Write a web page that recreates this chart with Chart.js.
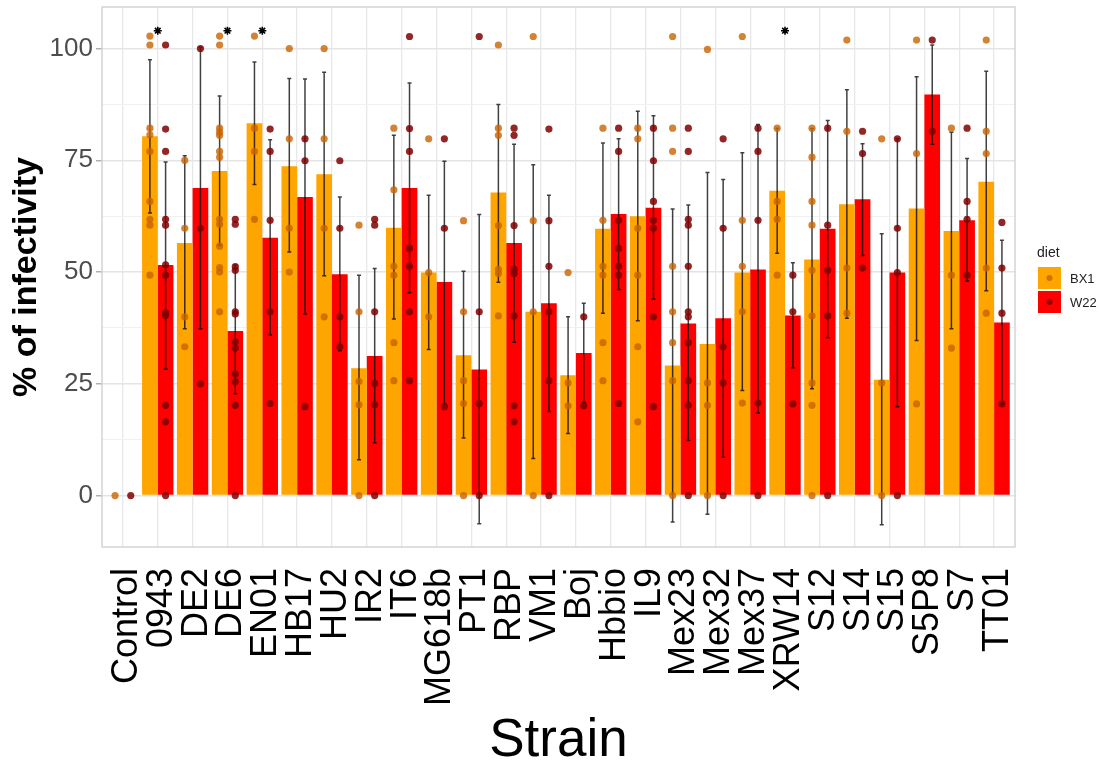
<!DOCTYPE html>
<html>
<head>
<meta charset="utf-8">
<script src="https://cdn.jsdelivr.net/npm/chart.js@4.4.1/dist/chart.umd.min.js"></script>
<style>
  html, body { margin: 0; padding: 0; background: #fff; }
</style>
</head>
<body>
<canvas id="chart" width="1101" height="769"></canvas>
<script>
// strains on the x axis
const categories = ['Control', '0943', 'DE2', 'DE6', 'EN01', 'HB17', 'HU2', 'IR2', 'IT6', 'MG618b',
  'PT1', 'RBP', 'VM1', 'Boj', 'Hbbio', 'IL9', 'Mex23', 'Mex32', 'Mex37', 'XRW14',
  'S12', 'S14', 'S15', 'S5P8', 'S7', 'TT01'];
const diets = ['BX1', 'W22'];
const yTickValues = [0, 25, 50, 75, 100];

// bar heights (mean % infectivity)
const bx1Mean = [0, 80.4, 56.5, 72.6, 83.3, 73.7, 71.9, 28.5, 59.9, 49.9, 31.4, 67.8, 41.1,
  26.9, 59.7, 62.5, 29.1, 33.9, 49.9, 68.2, 52.8, 65.2, 25.9, 64.2, 59.2, 70.2];
const w22Mean = [0, 51.6, 68.8, 36.8, 57.7, 66.8, 49.5, 31.2, 68.8, 47.8, 28.2, 56.5, 43.0,
  31.9, 63.0, 64.4, 38.5, 39.7, 50.6, 40.3, 59.7, 66.3, 49.9, 89.7, 61.6, 38.7];

// error bar ends
const bx1Low = [null, 63.2, 37.3, 56.0, 69.6, 54.5, 49.2, 8.0, 39.5, 32.7, 12.9, 47.7, 8.3,
  13.9, 40.8, 39.1, -5.9, -4.2, 23.5, 54.2, 23.9, 39.7, -6.5, 34.7, 37.3, 45.8];
const bx1High = [null, 97.5, 76.0, 89.4, 97.0, 93.3, 94.7, 49.3, 80.6, 67.2, 50.2, 87.5, 74.0,
  40.0, 78.9, 86.0, 64.1, 72.3, 76.7, 82.2, 82.1, 90.8, 58.6, 93.7, 81.3, 94.9];
const w22Low = [null, 28.3, 37.3, 22.8, 35.9, 40.6, 32.4, 11.8, 45.4, 20.5, -6.3, 34.3, 18.8,
  20.9, 46.1, 44.0, 12.3, 8.6, 18.5, 28.6, 35.3, 53.7, 19.9, 78.6, 48.0, 20.5];
const w22High = [null, 74.6, 100.3, 51.6, 79.6, 93.2, 66.8, 50.8, 92.3, 74.8, 62.9, 78.6, 67.2,
  43.0, 79.8, 85.0, 65.0, 70.7, 83.0, 52.1, 83.9, 78.7, 79.8, 100.8, 75.4, 57.1];

// individual replicates
const bx1Points = [
  [0],
  [102.8, 100.8, 82.2, 80.7, 77, 65.8, 61.8, 60.5, 49.3],
  [75, 59.8, 40, 33.3],
  [102.8, 100.8, 82.2, 81.3, 80.6, 77, 75.7, 61.8, 60.7, 55.8, 51, 50, 41.1],
  [102.8, 82.2, 77, 61.8],
  [100, 79.8, 59.8, 50],
  [100, 79.8, 59.8, 40],
  [60.5, 41.1, 25.5, 20.3, 0],
  [82.2, 68.4, 51.3, 49.3, 34.2, 25.7],
  [79.8, 49.9, 40],
  [61.5, 41.1, 25.7, 20.6, 0],
  [100.8, 82.2, 80.6, 60.4, 50.6, 49.7, 40.2],
  [102.7, 61.5, 41.1, 0],
  [49.9, 25.2, 20.1],
  [82.2, 61.6, 51.3, 49.3, 34.2, 25.7],
  [82.2, 79.8, 59.8, 49.3, 33.3, 16.5],
  [102.7, 82.2, 77, 51.3, 41.1, 34.2, 25.7, 0],
  [99.8, 25.2, 20.2, 0],
  [102.7, 61.6, 51.3, 41.1, 20.7],
  [82.2, 65.8, 61.8, 49.3],
  [82.2, 75.7, 65.8, 60.5, 50.4, 40.2, 25.2, 20.2, 0],
  [101.9, 81.5, 50.9, 40.8],
  [79.8, 25.2, 0],
  [101.9, 76.5, 20.5],
  [82.2, 49.3, 33],
  [101.9, 81.5, 76.5, 50.9, 40.8]
];
const w22Points = [
  [0],
  [100.8, 82, 77, 61.8, 60.5, 51.6, 49.3, 40.9, 40.3, 20.2, 16.5, 0],
  [100, 59.8, 25],
  [61.8, 60.7, 51.2, 50.4, 41.1, 40.6, 34.4, 33, 27.2, 25.5, 20.2, 0],
  [82, 77, 61.6, 41.1, 20.6],
  [79.8, 74.9, 19.9],
  [74.9, 59.8, 40, 33.3],
  [61.8, 60.5, 41.1, 25.1, 20.3, 0],
  [102.7, 82.1, 77, 55.3, 51.3, 41.1, 25.7],
  [79.8, 59.8, 19.9],
  [102.7, 41.1, 20.6, 0],
  [82.2, 80.6, 60.4, 50.6, 49.7, 40.2, 20.1, 16.5],
  [82, 61.5, 51.3, 41.1, 25.7, 0],
  [40, 20.1],
  [82.2, 77, 61.6, 55.3, 51.3, 49.3, 20.6],
  [82.2, 74.9, 65.8, 61.6, 59.8, 40, 19.9],
  [82.2, 77, 61.8, 60.5, 51.3, 41.1, 40, 34.2, 25.7, 20.2, 0],
  [79.8, 59.8, 33.3, 25.2, 0],
  [82.2, 77, 61.6, 20.7, 0],
  [49.3, 41.1, 20.5],
  [82.2, 60.5, 50.4, 40.2, 0],
  [81.5, 76.5, 50.9],
  [79.8, 59.8, 49.9, 0],
  [101.9, 81.5],
  [82.2, 65.8, 61.8, 49.3],
  [61.1, 50.9, 40.8, 20.5]
];

// significance marks
const starStrains = ['0943', 'DE6', 'EN01', 'XRW14'];
const starLevel = 104;

const FONT = '"Liberation Sans", Arial, sans-serif';
const barColors = ['#FFA500', '#FF0000'];
const pointColors = ['rgba(200, 100, 0, 0.8)', 'rgba(128, 0, 0, 0.85)'];
const dodge = 0.225;

const toPoints = (lists, shift) => lists.flatMap((vals, i) => vals.map(v => ({ x: i + shift, y: v })));

const errLow = [bx1Low, w22Low];
const errHigh = [bx1High, w22High];

const errorBars = {
  id: 'errorBars',
  afterDatasetDraw(chart, args) {
    if (args.index !== 0) return; // both bar sets are drawn by now
    const ctx = chart.ctx;
    const y = chart.scales.y;
    ctx.save();
    ctx.strokeStyle = 'rgba(0, 0, 0, 0.75)';
    ctx.lineWidth = 1.5;
    [0, 1].forEach(d => {
      chart.getDatasetMeta(d).data.forEach((bar, i) => {
        const lo = errLow[d][i], hi = errHigh[d][i];
        if (lo === null) return;
        const y1 = y.getPixelForValue(lo), y2 = y.getPixelForValue(hi);
        ctx.beginPath();
        ctx.moveTo(bar.x, y1); ctx.lineTo(bar.x, y2);
        ctx.moveTo(bar.x - 2, y1); ctx.lineTo(bar.x + 2, y1);
        ctx.moveTo(bar.x - 2, y2); ctx.lineTo(bar.x + 2, y2);
        ctx.stroke();
      });
    });
    ctx.restore();
  }
};

const panelAndLegend = {
  id: 'panelAndLegend',
  afterDraw(chart) {
    const { ctx, chartArea: a } = chart;
    ctx.save();
    ctx.strokeStyle = '#d4d4d4';
    ctx.lineWidth = 1.5;
    ctx.strokeRect(a.left, a.top, a.right - a.left, a.bottom - a.top);

    const x0 = a.right + 23;
    ctx.textBaseline = 'middle';
    ctx.fillStyle = '#222';
    ctx.font = '14px ' + FONT;
    ctx.fillText('diet', x0 - 1, 253);
    diets.forEach((d, k) => {
      const top = 267 + k * 24;
      ctx.fillStyle = barColors[k];
      ctx.fillRect(x0, top, 23, 22);
      ctx.beginPath();
      ctx.arc(x0 + 11.5, top + 11, 3, 0, Math.PI * 2);
      ctx.fillStyle = pointColors[k];
      ctx.fill();
      ctx.fillStyle = '#222';
      ctx.font = '13px ' + FONT;
      ctx.fillText(d, x0 + 32, top + 12);
    });
    ctx.restore();
  }
};

new Chart(document.getElementById('chart'), {
  type: 'bar',
  data: {
    datasets: [
      {
        label: diets[0], order: 2,
        data: bx1Mean.map((v, i) => ({ x: i, y: v })),
        backgroundColor: barColors[0],
        barPercentage: 1, categoryPercentage: 0.9
      },
      {
        label: diets[1], order: 2,
        data: w22Mean.map((v, i) => ({ x: i, y: v })),
        backgroundColor: barColors[1],
        barPercentage: 1, categoryPercentage: 0.9
      },
      {
        type: 'scatter', order: 1,
        data: toPoints(bx1Points, -dodge),
        backgroundColor: pointColors[0], borderWidth: 0, pointRadius: 3.6
      },
      {
        type: 'scatter', order: 1,
        data: toPoints(w22Points, dodge),
        backgroundColor: pointColors[1], borderWidth: 0, pointRadius: 3.6
      },
      {
        type: 'scatter', order: 0,
        data: starStrains.map(s => ({ x: categories.indexOf(s), y: starLevel })),
        pointStyle: 'star', pointRadius: 4, borderColor: '#000', borderWidth: 1.6
      }
    ]
  },
  options: {
    responsive: false,
    animation: false,
    layout: { padding: { top: 7, right: 86, bottom: 0, left: 0 } },
    plugins: { legend: { display: false }, tooltip: { enabled: false } },
    scales: {
      x: {
        type: 'linear',
        min: -0.6, max: 25.6,
        offset: false,
        afterBuildTicks: s => { s.ticks = categories.map((c, i) => ({ value: i })); },
        afterFit: s => { s.height = 222; s.paddingLeft = 0; s.paddingRight = 0; },
        grid: { offset: false, color: '#e8e8e8', lineWidth: 1.3, drawTicks: false },
        border: { display: false },
        ticks: {
          autoSkip: false, minRotation: 90, maxRotation: 90,
          padding: 21, labelOffset: 4,
          color: '#000', font: { family: FONT, size: 36 },
          callback: v => categories[v]
        },
        title: {
          display: true, text: 'Strain', color: '#000',
          font: { family: FONT, size: 53, lineHeight: 1 },
          padding: { top: 0, bottom: 1 }
        }
      },
      y: {
        min: -11.5, max: 109.3,
        afterBuildTicks: s => {
          const all = [];
          yTickValues.forEach((v, k) => {
            all.push({ value: v });
            if (k < yTickValues.length - 1) all.push({ value: (v + yTickValues[k + 1]) / 2 });
          });
          s.ticks = all;
        },
        afterFit: s => { s.width = 102; s.paddingTop = 0; s.paddingBottom = 0; },
        grid: {
          color: c => yTickValues.includes(c.tick.value) ? '#e4e4e4' : '#f0f0f0',
          lineWidth: c => yTickValues.includes(c.tick.value) ? 1.5 : 1,
          tickColor: c => yTickValues.includes(c.tick.value) ? '#b0b0b0' : 'rgba(0,0,0,0)',
          tickLength: 6
        },
        border: { display: false },
        ticks: {
          padding: 3, color: '#4d4d4d', font: { family: FONT, size: 26 },
          callback: v => yTickValues.includes(v) ? String(v) : ''
        },
        title: {
          display: true, text: '% of infectivity', color: '#000',
          font: { family: FONT, size: 34, weight: 'bold', lineHeight: 1 },
          padding: { top: 10, bottom: 0 }
        }
      }
    }
  },
  plugins: [errorBars, panelAndLegend]
});
</script>
</body>
</html>
